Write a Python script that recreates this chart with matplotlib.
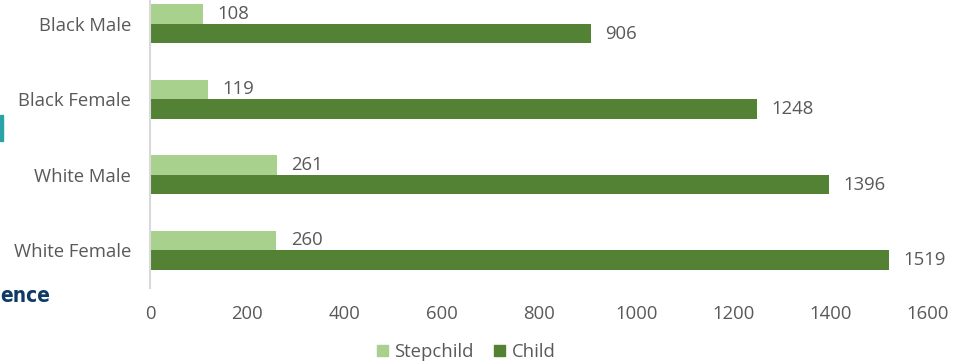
import numpy as np
import matplotlib.pyplot as plt
from matplotlib.patches import Rectangle, Patch

# data
categories = ['White Female', 'White Male', 'Black Female', 'Black Male']
stepchild = [260, 261, 119, 108]
child = [1519, 1396, 1248, 906]

c_step = '#A9D18E'
c_child = '#548235'
c_text = '#595959'
fs = 13.3

plt.rcParams['font.family'] = ['Open Sans', 'DejaVu Sans']

fig = plt.figure(figsize=(9.66, 3.64), dpi=100)
W, H = 966, 364
# axes box in pixels: x 150..928, y -14..288 (top runs past the image edge)
ax = fig.add_axes([150 / W, (H - 288) / H, (928 - 150) / W, (288 + 14) / H])

y = np.arange(len(categories))
bh = 0.26
ax.barh(y + bh / 2, stepchild, height=bh, color=c_step)
ax.barh(y - bh / 2, child, height=bh, color=c_child)

for yi, v in zip(y, stepchild):
    ax.annotate(str(v), (v, yi + bh / 2), xytext=(10.5, 0), textcoords='offset points',
                ha='left', va='center', fontsize=fs, color=c_text)
for yi, v in zip(y, child):
    ax.annotate(str(v), (v, yi - bh / 2), xytext=(10.5, 0), textcoords='offset points',
                ha='left', va='center', fontsize=fs, color=c_text)

ax.set_xlim(0, 1600)
ax.set_ylim(-0.5, len(categories) - 0.5)
ax.set_xticks(np.arange(0, 1601, 200))
ax.set_yticks(y)
ax.set_yticklabels(categories)
ax.tick_params(axis='both', length=0, labelsize=fs, labelcolor=c_text)
ax.tick_params(axis='x', pad=12)
ax.tick_params(axis='y', pad=13.5)
for s in ['top', 'right', 'bottom']:
    ax.spines[s].set_visible(False)
ax.spines['left'].set_color('#D9D9D9')
ax.spines['left'].set_linewidth(1.5)

handles = [Patch(color=c_step, label='Stepchild'), Patch(color=c_child, label='Child')]
fig.legend(handles=handles, loc='center', bbox_to_anchor=(466 / W, (H - 352) / H), ncol=2,
           frameon=False, fontsize=fs, labelcolor=c_text, handlelength=0.6,
           handleheight=0.6, handletextpad=0.35, columnspacing=1.1,
           borderpad=0, borderaxespad=0)

# bits of the slide behind the chart on the left edge
fig.patches.append(Rectangle((0, (H - 141) / H), 3 / W, 26 / H, transform=fig.transFigure,
                             color='#2AA3A6', zorder=0))
fig.text(0, (H - 302) / H, 'ence', ha='left', va='baseline', fontsize=15,
         fontweight='bold', fontstretch='condensed', color='#0E3A66',
         family=['DejaVu Sans'])

fig.savefig('out.png', dpi=100)
